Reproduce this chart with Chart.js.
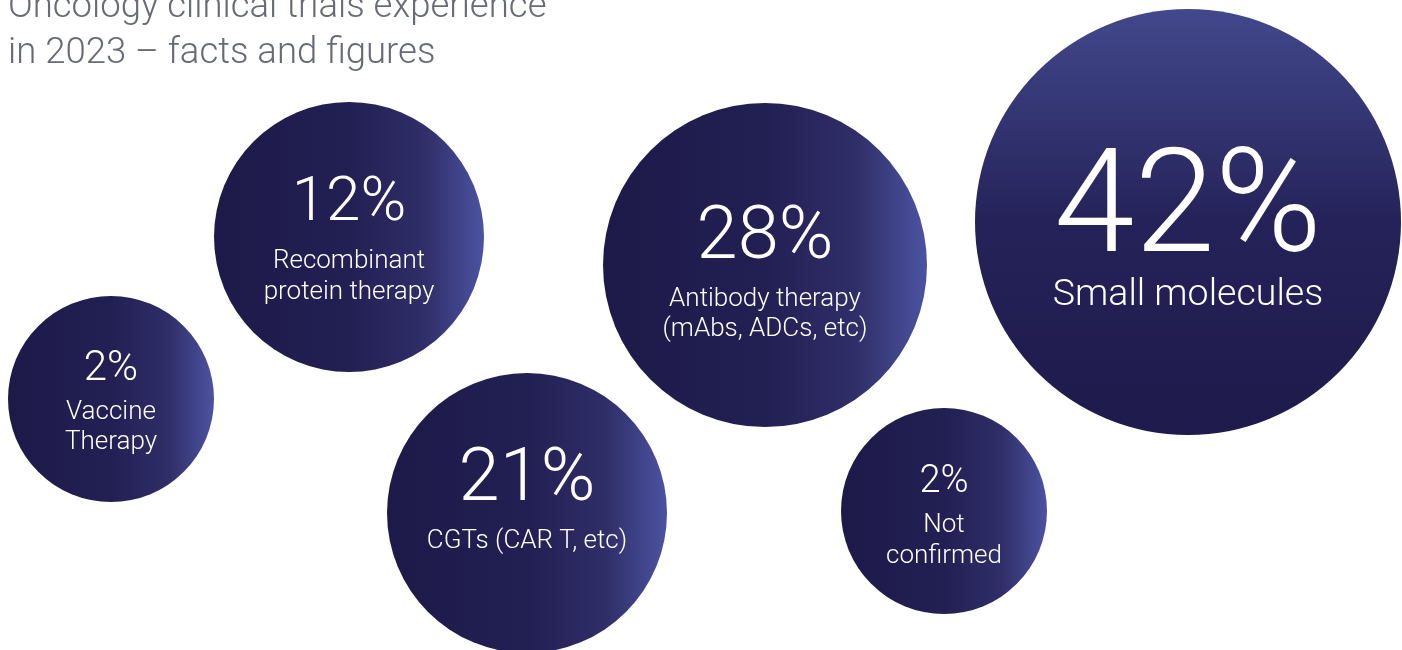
<!DOCTYPE html>
<html>
<head>
<meta charset="utf-8">
<title>Oncology clinical trials experience in 2023</title>
<script src="https://cdn.jsdelivr.net/npm/chart.js@4.4.1/dist/chart.umd.min.js"></script>
<style>
    html, body {
        margin: 0;
        padding: 0;
        background: #fff;
    }
    .wraper {
        position: relative;
        width: 1402px;
        height: 650px;
        overflow: hidden;
    }
    .title {
        position: absolute;
        left: 8px;
        top: -18px;
        font-family: Roboto, "Noto Sans", sans-serif;
        font-weight: 300;
        font-size: 36.5px;
        line-height: 46px;
        color: #676b74;
        white-space: nowrap;
        z-index: 2;
    }
</style>
</head>
<body>
<div class="wraper">
    <div class="title">Oncology clinical trials experience<br>in 2023 – facts and figures</div>
    <canvas id="chart" width="1402" height="650"></canvas>
</div>
<script>
// data
var categories = [
    ["Vaccine", "Therapy"],
    ["Recombinant", "protein therapy"],
    ["CGTs (CAR T, etc)"],
    ["Antibody therapy", "(mAbs, ADCs, etc)"],
    ["Not", "confirmed"],
    ["Small molecules"]
];
var shares = [2, 12, 21, 28, 2, 42];
var bubbleX = [111, 349, 527, 765, 944, 1188];
var bubbleY = [399, 237, 513, 265, 511, 222];
var bubbleR = [103, 135, 140, 162, 103, 213];

// text sizes / offsets (from bubble centre) for each bubble
var TEXT_STYLE = [
    { pct: 42, pctY: -19, label: 26, labelY: 20, lineH: 30 },
    { pct: 62, pctY: -17, label: 26, labelY: 31, lineH: 31 },
    { pct: 74, pctY: -13, label: 26, labelY: 35, lineH: 30 },
    { pct: 74, pctY: -7, label: 26, labelY: 41, lineH: 30 },
    { pct: 38, pctY: -19, label: 26, labelY: 21, lineH: 31 },
    { pct: 145, pctY: 29, label: 37.5, labelY: 83, lineH: 36 }
];

var FONT = "Roboto, 'Noto Sans', sans-serif";

var points = [];
for (var i = 0; i < shares.length; i++) {
    points.push({ x: bubbleX[i], y: bubbleY[i], r: bubbleR[i] });
}

function bubbleFill(context) {
    var chart = context.chart;
    var raw = context.raw;
    if (!chart.chartArea || !raw) {
        return "#221f55";
    }
    var ctx = chart.ctx,
        cx = chart.scales.x.getPixelForValue(raw.x),
        cy = chart.scales.y.getPixelForValue(raw.y),
        r = raw.r,
        grad;

    // the biggest one is shaded top to bottom, the others left to right
    if (context.dataIndex === shares.length - 1) {
        grad = ctx.createLinearGradient(cx, cy - r, cx, cy + r);
        grad.addColorStop(0, "#42488c");
        grad.addColorStop(0.5, "#252259");
        grad.addColorStop(1, "#1e1a4b");
    } else {
        grad = ctx.createLinearGradient(cx - r, cy, cx + r, cy);
        grad.addColorStop(0, "#1d1a49");
        grad.addColorStop(0.5, "#221f53");
        grad.addColorStop(0.78, "#302e68");
        grad.addColorStop(1, "#4b53a1");
    }
    return grad;
}

var labelPlugin = {
    id: "bubbleLabels",
    afterDatasetsDraw: function(chart) {
        var ctx = chart.ctx,
            meta = chart.getDatasetMeta(0);

        ctx.save();
        ctx.fillStyle = "#ffffff";
        ctx.textAlign = "center";
        ctx.textBaseline = "alphabetic";

        meta.data.forEach(function(el, index) {
            var style = TEXT_STYLE[index],
                lines = categories[index];

            ctx.font = "300 " + style.pct + "px " + FONT;
            ctx.fillText(shares[index] + "%", el.x, el.y + style.pctY);

            ctx.font = "300 " + style.label + "px " + FONT;
            for (var j = 0; j < lines.length; j++) {
                ctx.fillText(lines[j], el.x, el.y + style.labelY + j * style.lineH);
            }
        });
        ctx.restore();
    }
};

var chart = new Chart(document.getElementById("chart"), {
    type: "bubble",
    data: {
        datasets: [{
            data: points,
            backgroundColor: bubbleFill,
            borderWidth: 0,
            clip: false
        }]
    },
    options: {
        responsive: false,
        animation: false,
        events: [],
        layout: {
            padding: 0,
            autoPadding: false
        },
        plugins: {
            legend: { display: false },
            tooltip: { enabled: false }
        },
        scales: {
            x: {
                type: "linear",
                display: false,
                min: 0,
                max: 1402
            },
            y: {
                type: "linear",
                display: false,
                reverse: true,
                min: 0,
                max: 650
            }
        }
    },
    plugins: [labelPlugin]
});
</script>
</body>
</html>
